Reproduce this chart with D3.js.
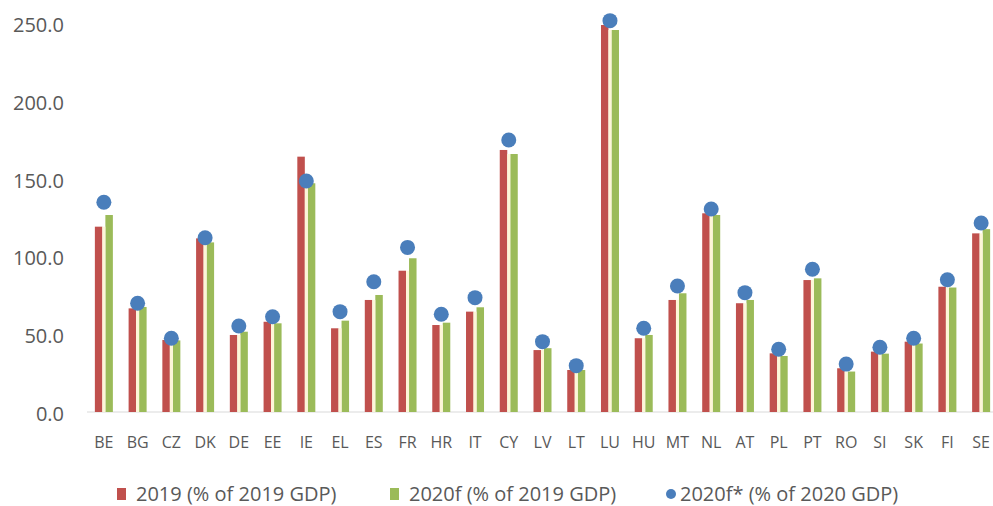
<!DOCTYPE html>
<html>
<head>
<meta charset="utf-8">
<script src="https://cdn.jsdelivr.net/npm/d3@7"></script>
<style>
  html, body { margin: 0; padding: 0; background: #fff; }
  svg { display: block; }
  text { font-family: "Open Sans", "Noto Sans", sans-serif; fill: #595959; }
</style>
</head>
<body>
<svg id="chart" width="993" height="506"></svg>
<script>
// Government debt by member state
const countries = ["BE","BG","CZ","DK","DE","EE","IE","EL","ES","FR","HR","IT","CY","LV",
                   "LT","LU","HU","MT","NL","AT","PL","PT","RO","SI","SK","FI","SE"];
const debt2019   = [119.1, 66.6, 46.3, 111.6, 49.5, 58.0, 164.1, 53.8, 72.0, 90.8, 55.9, 64.5, 168.4, 39.8,
                    27.0, 248.7, 47.4, 72.0, 127.7, 69.9, 37.7, 84.8, 28.1, 38.8, 45.2, 80.5, 114.8];
const debt2020   = [126.6, 67.5, 46.0, 109.0, 51.6, 57.0, 147.0, 58.7, 75.2, 98.8, 57.4, 67.3, 165.8, 41.0,
                    27.0, 245.5, 49.5, 76.3, 126.6, 72.0, 36.0, 85.9, 26.0, 37.5, 44.0, 80.0, 117.5];
const debt2020b  = [134.8, 69.9, 47.4, 112.0, 55.3, 61.2, 148.5, 64.5, 83.7, 105.8, 62.8, 73.5, 174.8, 45.2,
                    29.8, 251.5, 53.8, 81.0, 130.5, 76.7, 40.3, 91.7, 30.8, 41.6, 47.4, 85.0, 121.5];
const yTicks = [0, 50, 100, 150, 200, 250];
const seriesNames = ["2019 (% of 2019 GDP)", "2020f (% of 2019 GDP)", "2020f* (% of 2020 GDP)"];
const colors = ["#c0504d", "#9bbb59", "#4a7ebb"];

const svg = d3.select("#chart");

const x = d3.scaleBand().domain(countries).range([87, 998]).padding(0);
const y = d3.scaleLinear().domain([0, 250]).range([412, 23]);

// baseline
svg.append("line")
  .attr("x1", 87).attr("x2", 998)
  .attr("y1", y(0)).attr("y2", y(0))
  .attr("stroke", "#d9d9d9").attr("stroke-width", 1);

// y axis labels
const yAxis = d3.axisLeft(y).tickValues(yTicks).tickFormat(d3.format(".1f")).tickSize(0).tickPadding(0);
const yg = svg.append("g").attr("transform", "translate(64,2)").call(yAxis);
yg.select(".domain").remove();
yg.selectAll("text").style("font-size", "20px").attr("fill", "#595959");

// x axis labels
const xAxis = d3.axisBottom(x).tickSize(0).tickPadding(0);
const xg = svg.append("g").attr("transform", "translate(0,437)").call(xAxis);
xg.select(".domain").remove();
xg.selectAll("text").style("font-size", "16px").attr("fill", "#595959");

const barW = 7.5;
const groups = svg.append("g").selectAll("g").data(countries).join("g")
  .attr("transform", d => `translate(${x(d) + x.bandwidth() / 2},0)`);

groups.append("rect")
  .attr("x", -barW - 1.5).attr("width", barW)
  .attr("y", (d, i) => y(debt2019[i]))
  .attr("height", (d, i) => y(0) - y(debt2019[i]))
  .attr("fill", colors[0]);

groups.append("rect")
  .attr("x", 1.5).attr("width", barW)
  .attr("y", (d, i) => y(debt2020[i]))
  .attr("height", (d, i) => y(0) - y(debt2020[i]))
  .attr("fill", colors[1]);

// thin light separator between the two bars
groups.append("rect")
  .attr("x", -1.5).attr("width", 3)
  .attr("y", (d, i) => y(Math.min(debt2019[i], debt2020[i])))
  .attr("height", (d, i) => y(0) - y(Math.min(debt2019[i], debt2020[i])))
  .attr("fill", "#fdf6d8");

groups.append("circle")
  .attr("cx", 0)
  .attr("cy", (d, i) => y(debt2020b[i]))
  .attr("r", 7.5)
  .attr("fill", colors[2]);

// legend
const legend = svg.append("g").attr("transform", "translate(0,494)");
const legendX = [117, 390, 663];
seriesNames.forEach((name, i) => {
  const g = legend.append("g").attr("transform", `translate(${legendX[i]},0)`);
  if (i < 2) {
    g.append("rect").attr("x", 0).attr("y", -6).attr("width", 9).attr("height", 12).attr("fill", colors[i]);
  } else {
    g.append("circle").attr("cx", 8).attr("cy", 0).attr("r", 5).attr("fill", colors[i]);
  }
  g.append("text")
    .attr("x", i < 2 ? 19 : 17).attr("y", 0).attr("dy", "0.35em")
    .style("font-size", "20px")
    .text(name);
});
</script>
</body>
</html>
